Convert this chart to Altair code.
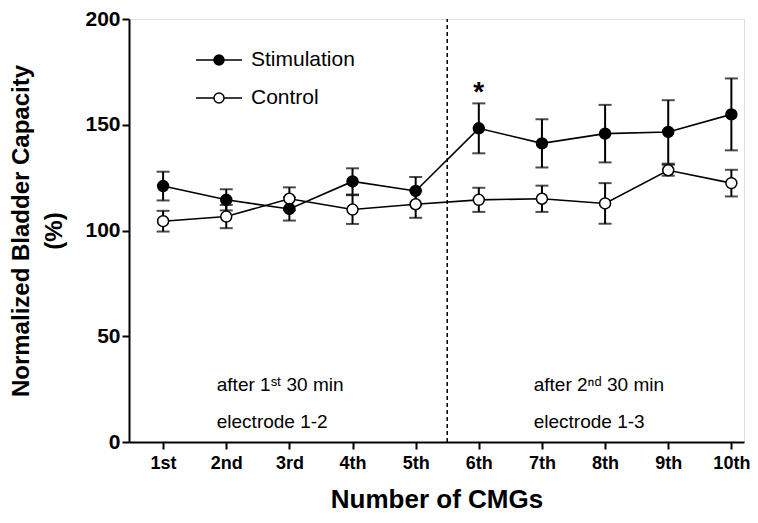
import altair as alt
import pandas as pd

categories = ["1st", "2nd", "3rd", "4th", "5th", "6th", "7th", "8th", "9th", "10th"]
positions = [1, 2, 3, 4, 5, 6, 7, 8, 9, 10]
stim_mean = [121.0, 114.5, 110.2, 123.2, 118.7, 148.3, 141.2, 145.8, 146.6, 154.9]
stim_err = [6.8, 5.0, 5.5, 6.2, 6.6, 11.8, 11.4, 13.6, 15.0, 17.0]
ctrl_mean = [104.4, 106.6, 115.0, 109.9, 112.4, 114.5, 115.0, 112.8, 128.5, 122.4]
ctrl_err = [4.9, 5.5, 5.4, 6.8, 6.4, 5.7, 6.2, 9.6, 2.6, 6.3]
series_names = ["Stimulation", "Control"]
divider_x = [5.5]
divider_y = [0, 200]
note_x = [1.85, 1.85, 6.87, 6.87]
note_y = [27, 9.5, 27, 9.5]
note_text = ["after 1\u02e2\u1d57 30 min", "electrode 1-2", "after 2\u207f\u1d48 30 min", "electrode 1-3"]
star_x = [6]
star_y = [161]
star_text = ["*"]
y_ticks = [0, 50, 100, 150, 200]

rows = []
for i, p in enumerate(positions):
    rows.append({"x": p, "series": "Stimulation", "mean": stim_mean[i],
                 "lo": stim_mean[i] - stim_err[i], "hi": stim_mean[i] + stim_err[i]})
for i, p in enumerate(positions):
    rows.append({"x": p, "series": "Control", "mean": ctrl_mean[i],
                 "lo": ctrl_mean[i] - ctrl_err[i], "hi": ctrl_mean[i] + ctrl_err[i]})
df = pd.DataFrame(rows)

FONT = "Liberation Sans"
label_js = "[" + ",".join("'" + c + "'" for c in categories) + "]"

xscale = alt.Scale(domain=[0.46, 10.2], nice=False, zero=False)
yscale = alt.Scale(domain=[0, 200], nice=False)

xaxis = alt.Axis(values=positions, labelExpr=label_js + "[datum.value-1]",
                 title="Number of CMGs", grid=False, tickSize=7, tickWidth=2,
                 domainWidth=2, domainColor="black", tickColor="black",
                 labelFont=FONT, labelFontSize=18, labelFontWeight="bold",
                 labelColor="black", labelPadding=5,
                 titleFont=FONT, titleFontSize=26, titleFontWeight="bold",
                 titleColor="black", titlePadding=14)
yaxis = alt.Axis(values=y_ticks, title=["Normalized Bladder Capacity", "(%)"],
                 grid=False, tickSize=7, tickWidth=2, domainWidth=2,
                 domainColor="black", tickColor="black",
                 labelFont=FONT, labelFontSize=21, labelFontWeight="bold",
                 labelColor="black", labelPadding=2,
                 titleFont=FONT, titleFontSize=24, titleFontWeight="bold",
                 titleColor="black", titlePadding=18, titleLineHeight=33)

base = alt.Chart(df)

lines = base.mark_line(color="black", strokeWidth=1.6).encode(
    x=alt.X("x:Q", scale=xscale, axis=xaxis),
    y=alt.Y("mean:Q", scale=yscale, axis=yaxis),
    detail="series:N",
)

rules = base.mark_rule(color="black", strokeWidth=2).encode(
    x="x:Q", y="lo:Q", y2="hi:Q")
caps_hi = base.mark_tick(color="black", thickness=2, size=13, orient="horizontal").encode(
    x="x:Q", y="hi:Q")
caps_lo = base.mark_tick(color="black", thickness=2, size=13, orient="horizontal").encode(
    x="x:Q", y="lo:Q")

r = 0.263
k = 0.5523 * r
sym = (f"M-1.21,0L{-r},0M{r},0L1.21,0"
       f"M{r},0C{r},{k} {k},{r} 0,{r}C{-k},{r} {-r},{k} {-r},0"
       f"C{-r},{-k} {-k},{-r} 0,{-r}C{k},{-r} {r},{-k} {r},0Z")

points = base.mark_point(filled=True, size=120, stroke="black", strokeWidth=1.5,
                         opacity=1).encode(
    x="x:Q", y="mean:Q",
    fill=alt.Fill("series:N",
                  scale=alt.Scale(domain=series_names, range=["black", "white"]),
                  legend=alt.Legend(title=None, orient="none", legendX=70, legendY=21,
                                    symbolType=sym, symbolSize=1444,
                                    symbolStrokeColor="black", symbolStrokeWidth=1.5,
                                    labelFont=FONT, labelFontSize=21, labelColor="black",
                                    labelOffset=12, rowPadding=8, padding=0)),
    order=alt.Order("series:N", sort="ascending"),
)

divider = alt.Chart(pd.DataFrame({"x": divider_x * 2, "y": divider_y})).mark_line(
    color="black", strokeWidth=1.5, strokeDash=[4, 3]).encode(x="x:Q", y="y:Q")

notes = alt.Chart(pd.DataFrame({"x": note_x, "y": note_y, "t": note_text})).mark_text(
    align="left", baseline="middle", font=FONT, fontSize=19, color="black").encode(
    x="x:Q", y="y:Q", text="t:N")

star = alt.Chart(pd.DataFrame({"x": star_x, "y": star_y, "t": star_text})).mark_text(
    align="center", baseline="alphabetic", font=FONT, fontSize=28, fontWeight="bold",
    color="black").encode(x="x:Q", y="y:Q", text="t:N")

chart = alt.layer(divider, lines, rules, caps_hi, caps_lo, points, notes, star).properties(
    width=615, height=423,
    padding={"left": 121, "top": 11, "right": 6, "bottom": 73},
    autosize="none",
).configure_view(stroke=None).configure(background="white")

chart.save("out.html", embed_options={"renderer": "svg", "actions": False})
